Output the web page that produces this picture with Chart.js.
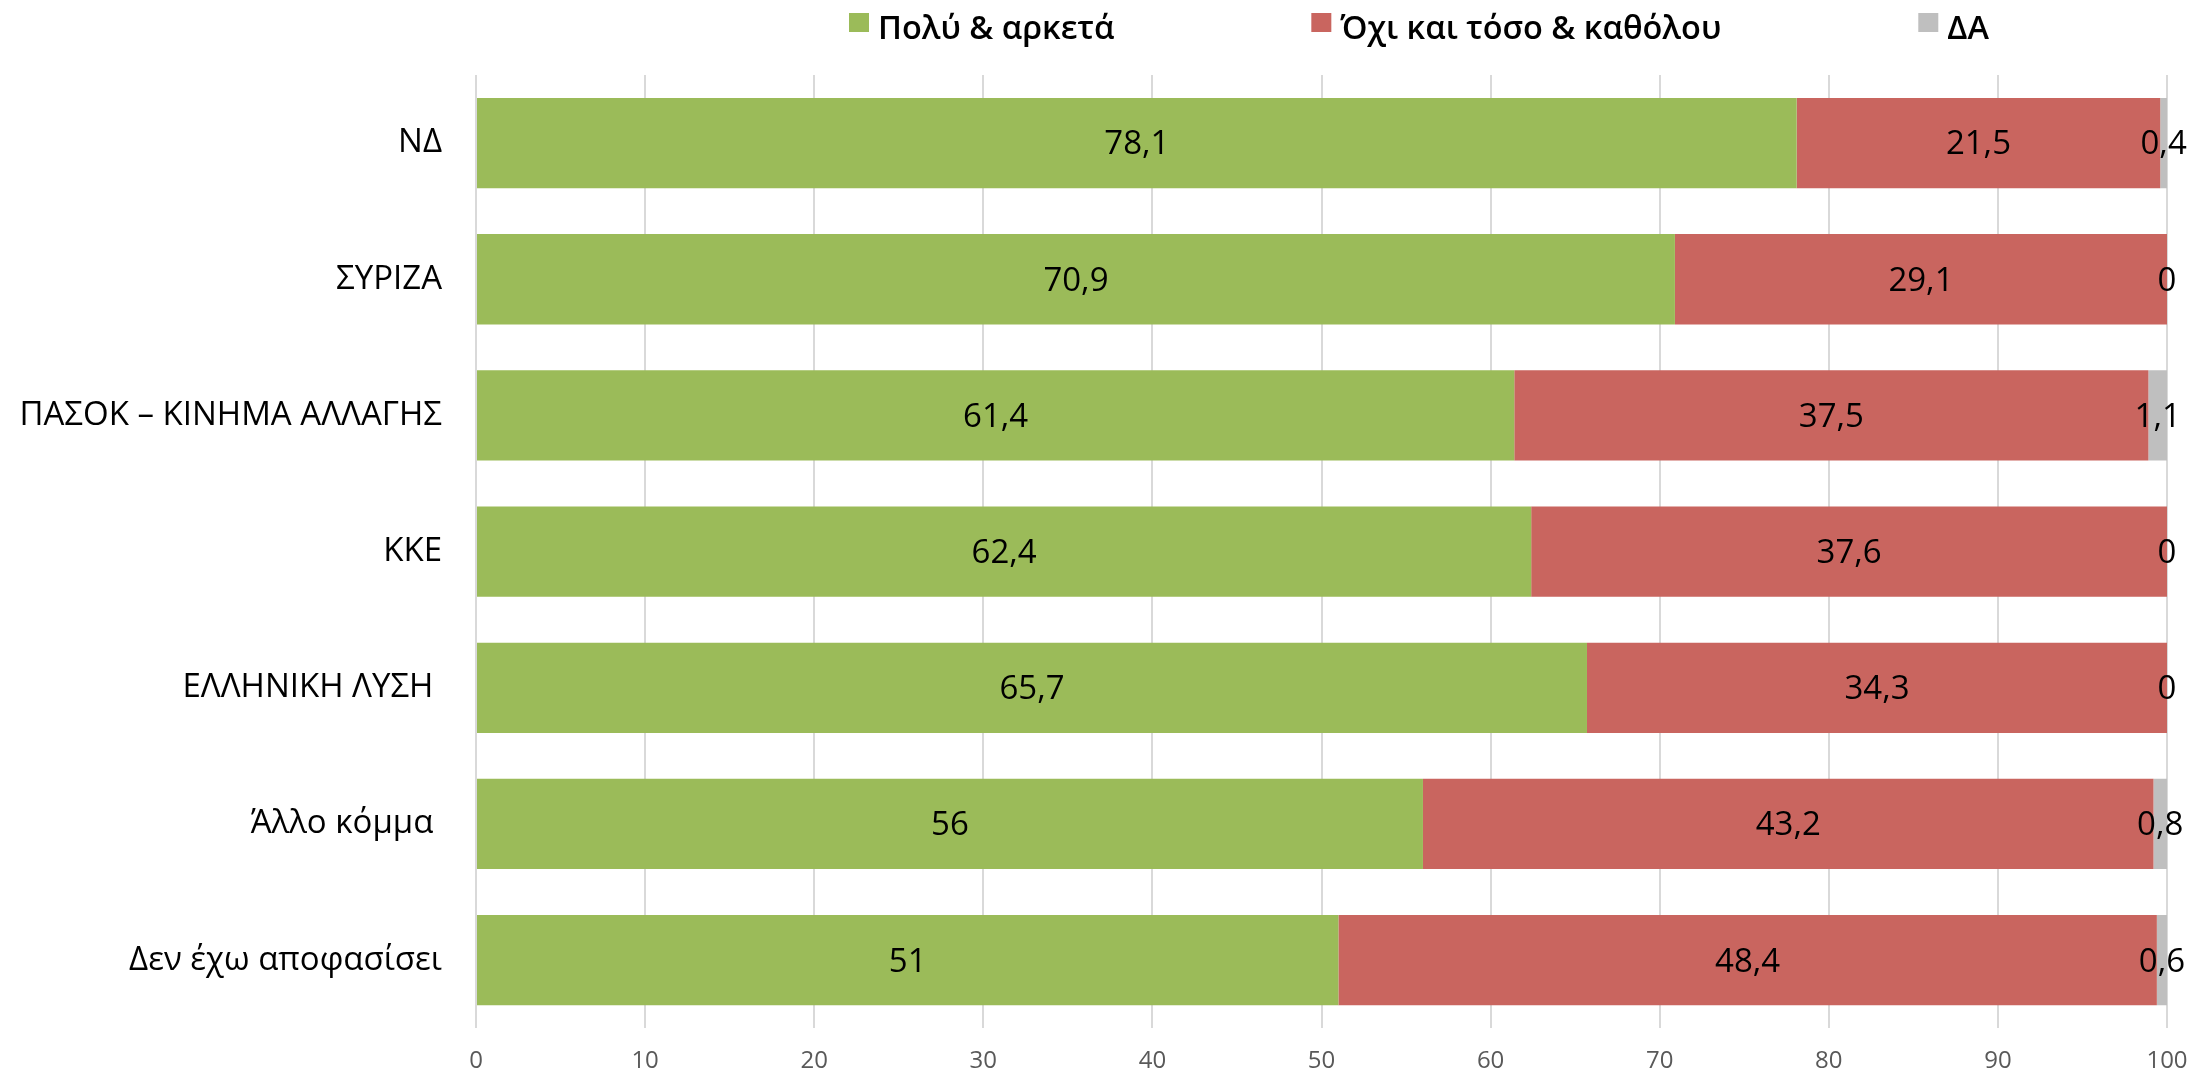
<!DOCTYPE html>
<html><head><meta charset="utf-8">
<script src="https://cdn.jsdelivr.net/npm/chart.js@4.4.1/dist/chart.umd.min.js"></script>
<style>html,body{margin:0;padding:0;background:#fff}#wrap{width:2197px;height:1082px;position:relative}</style>
</head><body><div id="wrap"><canvas id="c"></canvas></div>
<script>
const categories = ["ΝΔ", "ΣΥΡΙΖΑ", "ΠΑΣΟΚ – ΚΙΝΗΜΑ ΑΛΛΑΓΗΣ", "ΚΚΕ", "ΕΛΛΗΝΙΚΗ ΛΥΣΗ ", "Άλλο κόμμα ", "Δεν έχω αποφασίσει"];
const seriesNames = ["Πολύ & αρκετά", "Όχι και τόσο & καθόλου", "ΔΑ"];
const seriesColors = ["#9BBB59", "#C9655F", "#BFBFBF"];
const muchValues = [78.1, 70.9, 61.4, 62.4, 65.7, 56, 51];
const notValues = [21.5, 29.1, 37.5, 37.6, 34.3, 43.2, 48.4];
const naValues = [0.4, 0, 1.1, 0, 0, 0.8, 0.6];
const xTickValues = [0, 10, 20, 30, 40, 50, 60, 70, 80, 90, 100];

const FONT = "'Open Sans', 'DejaVu Sans', sans-serif";

const valueLabels = {
  id: 'valueLabels',
  afterDatasetsDraw(chart) {
    const ctx = chart.ctx;
    ctx.save();
    ctx.font = "33px " + FONT;
    ctx.fillStyle = "#000";
    ctx.textAlign = "center";
    ctx.textBaseline = "middle";
    chart.data.datasets.forEach((ds, di) => {
      const meta = chart.getDatasetMeta(di);
      meta.data.forEach((bar, i) => {
        const v = ds.data[i];
        const x = (bar.x + bar.base) / 2;
        ctx.fillText(String(v).replace('.', ','), x, bar.y + 2);
      });
    });
    ctx.restore();
  }
};

const topLegend = {
  id: 'topLegend',
  afterDraw(chart) {
    const ctx = chart.ctx;
    ctx.save();
    ctx.font = "600 32.5px " + FONT;
    ctx.textBaseline = "alphabetic";
    ctx.textAlign = "left";
    let x = 849;
    chart.data.datasets.forEach((ds) => {
      ctx.fillStyle = ds.backgroundColor;
      ctx.fillRect(x, 13, 20, 19);
      ctx.fillStyle = "#000";
      ctx.fillText(ds.label, x + 29, 39);
      x += 29 + ctx.measureText(ds.label).width + 197;
    });
    ctx.restore();
  }
};

new Chart(document.getElementById('c'), {
  type: 'bar',
  data: {
    labels: categories,
    datasets: [
      { label: seriesNames[0], data: muchValues, backgroundColor: seriesColors[0] },
      { label: seriesNames[1], data: notValues, backgroundColor: seriesColors[1] },
      { label: seriesNames[2], data: naValues, backgroundColor: seriesColors[2] }
    ]
  },
  options: {
    indexAxis: 'y',
    responsive: true,
    maintainAspectRatio: false,
    animation: false,
    datasets: { bar: { categoryPercentage: 0.663, barPercentage: 1.0, borderWidth: 0 } },
    layout: { padding: { top: 75, right: 30, left: 0, bottom: 0 } },
    plugins: { legend: { display: false }, tooltip: { enabled: false } },
    scales: {
      x: {
        stacked: true,
        min: 0, max: 100,
        afterBuildTicks(scale) { scale.ticks = xTickValues.map(v => ({ value: v })); },
        afterFit(scale) { scale.height = 47; scale.paddingRight = 0; scale.paddingLeft = 0; },
        grid: { color: '#D9D9D9', lineWidth: 2, drawTicks: false },
        border: { display: false },
        ticks: { padding: 19, color: '#595959', font: { family: FONT, size: 24 } }
      },
      y: {
        stacked: true,
        afterFit(scale) { scale.width = 476; },
        grid: { display: false, drawTicks: false },
        border: { display: false },
        ticks: { padding: 34, color: '#000', font: { family: FONT, size: 33 } }
      }
    }
  },
  plugins: [valueLabels, topLegend]
});
</script>
</body></html>
